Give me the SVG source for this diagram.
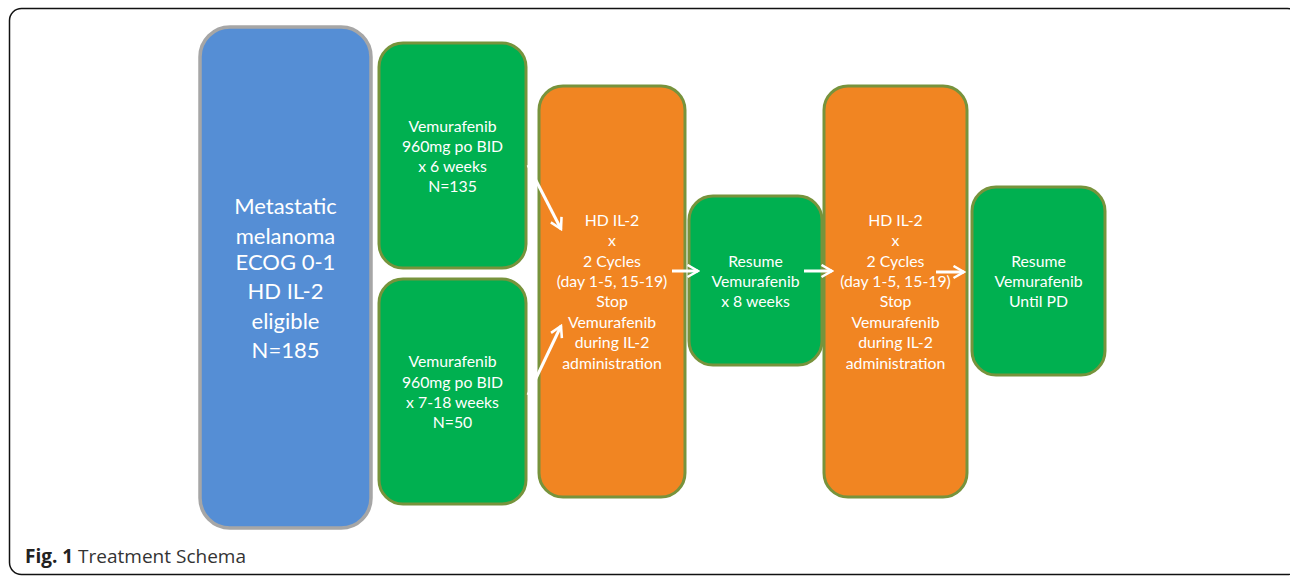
<svg xmlns="http://www.w3.org/2000/svg" width="1290" height="576" viewBox="0 0 1290 576">
<style>
.t{font-family:Lato,"Open Sans",sans-serif;fill:#fff;text-anchor:middle;font-size:15.8px}
.big{font-size:22px}
.g{fill:#00B050;stroke:#77933C;stroke-width:3}
.o{fill:#F18522;stroke:#77933C;stroke-width:3}
.b{fill:#558ED5;stroke:#A6A6A6;stroke-width:3.5}
.c{stroke:#fff;stroke-width:3;fill:none;marker-end:url(#ah)}
.cap{font-family:"Open Sans",Lato,sans-serif;font-size:19px;fill:#333}
</style>
<defs>
<marker id="ah" viewBox="0 0 10 10" refX="8.5" refY="5" markerWidth="5" markerHeight="5" orient="auto" markerUnits="strokeWidth">
<polyline points="1.5,1 8.5,5 1.5,9" fill="none" stroke="#fff" stroke-width="1.7"/>
</marker>
</defs>
<rect x="9.5" y="8.5" width="1290" height="566" rx="12" fill="#fff" stroke="#111" stroke-width="1.5"/>
<g id="n_blue">
<rect class="b" x="200" y="27" width="171" height="501" rx="30"/>
<text class="t big" x="285.5" y="214">Metastatic</text>
<text class="t big" x="285.5" y="244">melanoma</text>
<text class="t big" x="285.5" y="270">ECOG 0-1</text>
<text class="t big" x="285.5" y="299">HD IL-2</text>
<text class="t big" x="285.5" y="329">eligible</text>
<text class="t big" x="285.5" y="358">N=185</text>
</g>
<g id="n_g1">
<rect class="g" x="379" y="43" width="147" height="225" rx="24"/>
<text class="t" x="452.5" y="132">Vemurafenib</text>
<text class="t" x="452.5" y="152">960mg po BID</text>
<text class="t" x="452.5" y="172">x 6 weeks</text>
<text class="t" x="452.5" y="192">N=135</text>
</g>
<g id="n_g2">
<rect class="g" x="379" y="279" width="147" height="225" rx="24"/>
<text class="t" x="452.5" y="367">Vemurafenib</text>
<text class="t" x="452.5" y="388">960mg po BID</text>
<text class="t" x="452.5" y="408"> x 7-18 weeks</text>
<text class="t" x="452.5" y="428">N=50</text>
</g>
<g id="n_o1">
<rect class="o" x="539" y="86" width="146" height="411" rx="24"/>
<text class="t" x="612" y="226">HD IL-2</text>
<text class="t" x="612" y="246">x</text>
<text class="t" x="612" y="267">2 Cycles</text>
<text class="t" x="612" y="287">(day 1-5, 15-19)</text>
<text class="t" x="612" y="307">Stop</text>
<text class="t" x="612" y="328">Vemurafenib</text>
<text class="t" x="612" y="348">during IL-2</text>
<text class="t" x="612" y="369">administration</text>
</g>
<g id="n_g3">
<rect class="g" x="689" y="196" width="133" height="169" rx="24"/>
<text class="t" x="755.5" y="267">Resume</text>
<text class="t" x="755.5" y="287">Vemurafenib</text>
<text class="t" x="755.5" y="307">x 8 weeks</text>
</g>
<g id="n_o2">
<rect class="o" x="824" y="86" width="143" height="411" rx="24"/>
<text class="t" x="895.5" y="226">HD IL-2</text>
<text class="t" x="895.5" y="246">x</text>
<text class="t" x="895.5" y="267">2 Cycles</text>
<text class="t" x="895.5" y="287">(day 1-5, 15-19)</text>
<text class="t" x="895.5" y="307">Stop</text>
<text class="t" x="895.5" y="328">Vemurafenib</text>
<text class="t" x="895.5" y="348">during IL-2</text>
<text class="t" x="895.5" y="369">administration</text>
</g>
<g id="n_g4">
<rect class="g" x="972" y="187" width="133" height="188" rx="24"/>
<text class="t" x="1038.5" y="267">Resume</text>
<text class="t" x="1038.5" y="287">Vemurafenib</text>
<text class="t" x="1038.5" y="307">Until PD</text>
</g>
<g id="connectors">
<line class="c" x1="528" y1="165" x2="561" y2="229"/>
<line class="c" x1="528" y1="395" x2="561" y2="326"/>
<line class="c" x1="672" y1="271" x2="698" y2="271"/>
<line class="c" x1="804" y1="271" x2="832" y2="271"/>
<line class="c" x1="936" y1="272" x2="964" y2="272"/>
</g>
<text class="cap" x="25" y="563"><tspan font-weight="bold" fill="#222">Fig. 1</tspan> Treatment Schema</text>
</svg>
